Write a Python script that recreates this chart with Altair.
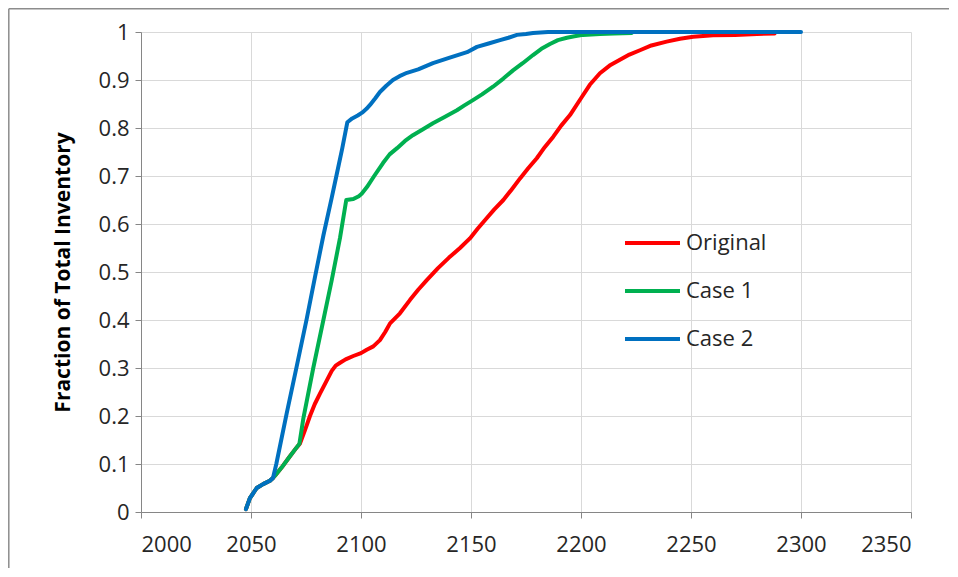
import altair as alt
import pandas as pd

# ---- data ----
orig_years = [2047.7, 2049.5, 2052.6, 2055.5, 2058.6, 2060.0, 2061.0, 2064.0, 2067.2, 2070.5, 2072.3,
              2074.5, 2076.8, 2079.0, 2081.4, 2084.0, 2086.7, 2088.5, 2090.5, 2093.0, 2096.5, 2100.0,
              2102.6, 2105.6, 2108.6, 2111.0, 2113.2, 2117.7, 2122.3, 2126.0, 2129.9, 2135.0, 2140.0,
              2145.0, 2149.5, 2153.0, 2157.1, 2160.5, 2164.7, 2168.5, 2172.3, 2176.0, 2179.9, 2183.5,
              2187.4, 2191.0, 2195.0, 2200.0, 2204.0, 2208.6, 2213.0, 2217.7, 2222.0, 2226.8, 2232.0,
              2238.9, 2245.0, 2251.0, 2260.0, 2270.0, 2280.0, 2288.0]
orig_vals = [0.006, 0.029, 0.050, 0.058, 0.065, 0.071, 0.076, 0.093, 0.113, 0.133, 0.143,
             0.170, 0.200, 0.225, 0.247, 0.270, 0.294, 0.305, 0.311, 0.318, 0.325, 0.331,
             0.338, 0.345, 0.358, 0.375, 0.393, 0.414, 0.442, 0.463, 0.483, 0.508, 0.530,
             0.550, 0.570, 0.590, 0.612, 0.630, 0.650, 0.672, 0.695, 0.716, 0.737, 0.760,
             0.782, 0.805, 0.827, 0.862, 0.890, 0.914, 0.930, 0.942, 0.953, 0.962, 0.972,
             0.980, 0.986, 0.990, 0.993, 0.994, 0.996, 0.997]

case1_years = [2047.7, 2049.5, 2052.6, 2055.5, 2058.6, 2060.0, 2061.0, 2064.0, 2067.2, 2070.5, 2072.0,
               2073.8, 2078.3, 2082.9, 2086.7, 2090.5, 2093.3, 2096.5, 2099.0, 2100.3, 2102.7, 2106.0,
               2110.0, 2113.0, 2116.4, 2120.0, 2123.6, 2128.0, 2132.7, 2138.0, 2143.6, 2147.0, 2150.9,
               2155.0, 2160.0, 2164.7, 2169.1, 2173.5, 2178.2, 2182.0, 2185.9, 2189.5, 2193.6, 2197.0,
               2200.9, 2208.6, 2215.0, 2223.0]
case1_vals = [0.006, 0.029, 0.050, 0.058, 0.065, 0.071, 0.076, 0.093, 0.113, 0.133, 0.142,
              0.195, 0.300, 0.400, 0.483, 0.572, 0.650, 0.652, 0.658, 0.663, 0.677, 0.700,
              0.727, 0.745, 0.758, 0.773, 0.785, 0.797, 0.810, 0.823, 0.837, 0.847, 0.858,
              0.870, 0.886, 0.903, 0.920, 0.935, 0.952, 0.965, 0.975, 0.983, 0.988, 0.991,
              0.994, 0.996, 0.997, 0.998]

case2_years = [2047.7, 2049.5, 2052.6, 2055.5, 2058.6, 2060.0, 2061.5, 2066.2, 2070.8, 2075.3, 2079.1,
               2082.9, 2086.7, 2088.9, 2091.5, 2093.8, 2096.0, 2098.5, 2100.5, 2102.5, 2104.1, 2106.5,
               2108.6, 2111.5, 2114.5, 2117.5, 2120.9, 2126.0, 2132.7, 2140.0, 2148.2, 2152.7, 2158.0,
               2163.2, 2167.0, 2170.9, 2175.0, 2178.2, 2185.0, 2300.0]
case2_vals = [0.006, 0.029, 0.050, 0.058, 0.065, 0.071, 0.100, 0.205, 0.304, 0.402, 0.490,
              0.576, 0.655, 0.702, 0.758, 0.812, 0.820, 0.826, 0.832, 0.840, 0.848, 0.862,
              0.875, 0.888, 0.900, 0.908, 0.915, 0.922, 0.935, 0.946, 0.958, 0.969, 0.976,
              0.983, 0.988, 0.994, 0.996, 0.998, 1.000, 1.000]

series_names = ["Original", "Case 1", "Case 2"]
series_colors = ["#FF0000", "#00B050", "#0070C0"]

x_ticks = [2000, 2050, 2100, 2150, 2200, 2250, 2300, 2350]
y_ticks = [0, 0.1, 0.2, 0.3, 0.4, 0.5, 0.6, 0.7, 0.8, 0.9, 1]

frames = []
for name, yrs, vals in zip(series_names, [orig_years, case1_years, case2_years],
                           [orig_vals, case1_vals, case2_vals]):
    frames.append(pd.DataFrame({"Year": yrs, "Fraction": vals, "Series": name}))
df = pd.concat(frames, ignore_index=True)

FONT = "Open Sans"

color = alt.Color(
    "Series:N",
    scale=alt.Scale(domain=series_names, range=series_colors),
    legend=alt.Legend(
        title=None, orient="none", legendX=482, legendY=199,
        symbolType="stroke", symbolSize=3025, symbolStrokeWidth=4,
        clipHeight=24, rowPadding=24, labelOffset=4, padding=0, offset=0,
        labelFont=FONT, labelFontSize=22, labelColor="#262626",
    ),
)

x = alt.X("Year:Q", scale=alt.Scale(domain=[2000, 2350], nice=False),
          axis=alt.Axis(values=x_ticks, format="d", title=None))
y = alt.Y("Fraction:Q", scale=alt.Scale(domain=[0, 1], nice=False),
          axis=alt.Axis(values=y_ticks, format="~g", title="Fraction of Total Inventory",
                        titleFont=FONT, titleFontSize=21, titleFontWeight="bold",
                        titleColor="#000000", titlePadding=25))

layers = []
for name in series_names:
    layers.append(
        alt.Chart(df).transform_filter(alt.datum.Series == name)
        .mark_line(strokeWidth=4, strokeCap="round", strokeJoin="round")
        .encode(x=x, y=y, color=color, order=alt.Order("Year:Q"))
    )

one = pd.DataFrame({"frame": [0]})
frame_left = alt.Chart(one).mark_rule(color="#8C8C8C", strokeWidth=1.5).encode(
    x=alt.value(-132.2), y=alt.value(-23.2), y2=alt.value(536))
frame_top = alt.Chart(one).mark_rule(color="#8C8C8C", strokeWidth=1.5).encode(
    x=alt.value(-132.2), x2=alt.value(808), y=alt.value(-23.2))

chart = alt.layer(frame_left, frame_top, *layers).properties(
    width=770, height=480,
    autosize=alt.AutoSizeParams(type="none"),
    padding={"left": 133, "top": 24, "right": 39, "bottom": 57},
    background="white",
).configure_view(stroke=None).configure_axis(
    labelFont=FONT, labelFontSize=22, labelColor="#262626",
    gridColor="#D9D9D9", gridWidth=1,
    domainColor="#868686", domainWidth=1,
    tickColor="#868686", tickSize=6,
).configure_axisX(labelPadding=16).configure_axisY(labelPadding=6)

chart.save("out.html", embed_options={"renderer": "svg", "actions": False})
